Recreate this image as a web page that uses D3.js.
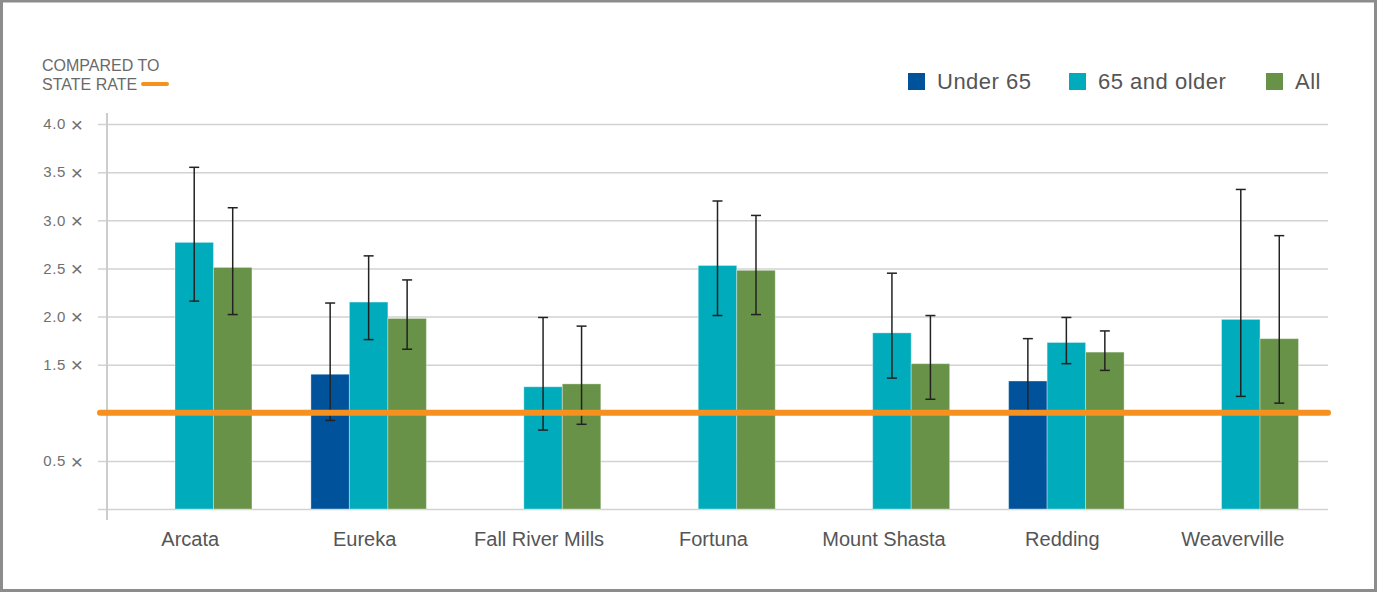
<!DOCTYPE html>
<html>
<head>
<meta charset="utf-8">
<script src="https://cdn.jsdelivr.net/npm/d3@7"></script>
<style>
  body { margin: 0; background: #fff; }
  svg { display: block; }
</style>
</head>
<body>
<div id="chart"></div>
<script>
// values (rate compared to state rate)
let cities = ["Arcata", "Eureka", "Fall River Mills", "Fortuna", "Mount Shasta", "Redding", "Weaverville"];
let seriesNames = ["Under 65", "65 and older", "All"];
let seriesColors = ["#00539b", "#00abbb", "#679247"];

let under65 = [null, 1.40, null, null, null, 1.33, null];
let under65Lo = [null, 0.92, null, null, null, 1.01, null];
let under65Hi = [null, 2.14, null, null, null, 1.77, null];

let older65 = [2.77, 2.15, 1.27, 2.53, 1.83, 1.73, 1.97];
let older65Lo = [2.16, 1.76, 0.82, 2.01, 1.36, 1.51, 1.17];
let older65Hi = [3.55, 2.63, 1.99, 3.20, 2.45, 1.99, 3.32];

let all = [2.51, 1.98, 1.30, 2.48, 1.51, 1.63, 1.77];
let allLo = [2.02, 1.66, 0.88, 2.02, 1.14, 1.44, 1.10];
let allHi = [3.13, 2.38, 1.90, 3.05, 2.01, 1.85, 2.84];

let tickValues = [0.5, 1.5, 2.0, 2.5, 3.0, 3.5, 4.0];
let stateRate = 1.0;

let width = 1377, height = 592;
let plotLeft = 107, plotRight = 1328, plotTop = 124, plotBottom = 509;

// flatten into rows for the bars
let seriesVals = [[under65, under65Lo, under65Hi], [older65, older65Lo, older65Hi], [all, allLo, allHi]];
let rows = [];
cities.forEach((c, i) => {
  seriesNames.forEach((s, j) => {
    let v = seriesVals[j][0][i];
    if (v != null) rows.push({city: c, series: s, color: seriesColors[j], value: v, lo: seriesVals[j][1][i], hi: seriesVals[j][2][i]});
  });
});

let svg = d3.select("#chart").append("svg")
  .attr("width", width)
  .attr("height", height);

// frame
svg.append("rect")
  .attr("x", 1.5).attr("y", 1).attr("width", width - 3).attr("height", height - 2.5)
  .attr("fill", "none").attr("stroke", "#8c8c8c").attr("stroke-width", 3);

let x0 = d3.scaleBand().domain(cities).range([plotLeft, plotRight]).paddingInner(0.338).paddingOuter(0.169);
let x1 = d3.scaleBand().domain(seriesNames).range([0, x0.bandwidth()]);
let y = d3.scaleLinear().domain([0, 4]).range([plotBottom, plotTop]);

// gridlines + tick labels
let yAxis = d3.axisLeft(y)
  .tickValues([0, 1].concat(tickValues))
  .tickSize(-(plotRight - 98))
  .tickPadding(15)
  .tickFormat("");

let gy = svg.append("g").attr("transform", "translate(98,0)").call(yAxis);
gy.select(".domain").remove();
gy.selectAll("line").attr("stroke", "#d2d2d2").attr("stroke-width", 1.5);

// tick labels with a larger multiplication sign
let tl = gy.selectAll(".tick").filter(d => tickValues.includes(d))
  .select("text")
  .attr("fill", "#707070")
  .style("font-family", "'Liberation Sans', Arial, sans-serif")
  .style("font-size", "15px")
  .style("letter-spacing", "0.6px");
tl.append("tspan").text(d => d3.format(".1f")(d) + " ");
tl.append("tspan").style("font-size", "21px").style("letter-spacing", "0px").attr("dy", "2.5").text("\u00d7");

// vertical axis line
svg.append("line")
  .attr("x1", plotLeft).attr("x2", plotLeft)
  .attr("y1", 113).attr("y2", 520)
  .attr("stroke", "#cccccc").attr("stroke-width", 2);

// bars
svg.append("g").selectAll("rect")
  .data(rows)
  .enter()
  .append("rect")
  .attr("x", d => x0(d.city) + x1(d.series))
  .attr("y", d => y(d.value))
  .attr("width", x1.bandwidth())
  .attr("height", d => y(0) - y(d.value))
  .attr("fill", d => d.color)
  .attr("stroke", "rgba(255,255,255,0.35)")
  .attr("stroke-width", 1);

// error bars
let err = svg.append("g").attr("stroke", "#222").attr("stroke-width", 1.5);
rows.forEach(d => {
  let cx = x0(d.city) + x1(d.series) + x1.bandwidth() / 2;
  err.append("line").attr("x1", cx).attr("x2", cx).attr("y1", y(d.hi)).attr("y2", y(d.lo));
  err.append("line").attr("x1", cx - 5).attr("x2", cx + 5).attr("y1", y(d.hi)).attr("y2", y(d.hi));
  err.append("line").attr("x1", cx - 5).attr("x2", cx + 5).attr("y1", y(d.lo)).attr("y2", y(d.lo));
});

// state rate line
svg.append("line")
  .attr("x1", 100).attr("x2", plotRight)
  .attr("y1", y(stateRate)).attr("y2", y(stateRate))
  .attr("stroke", "#f6901e").attr("stroke-width", 6).attr("stroke-linecap", "round");

// x labels
let xAxis = d3.axisBottom(x0).tickSize(0).tickPadding(0);
let gx = svg.append("g").attr("transform", `translate(0,${plotBottom})`).call(xAxis);
gx.select(".domain").remove();
gx.selectAll("text")
  .attr("y", 37)
  .attr("dy", 0)
  .attr("dx", d => d == "Weaverville" || d == "Mount Shasta" ? -8 : -4)
  .attr("fill", "#555")
  .style("font-family", "'Liberation Sans', Arial, sans-serif")
  .style("font-size", "20px");

// top-left note
let note = svg.append("g")
  .style("font-family", "'Liberation Sans', Arial, sans-serif")
  .style("font-size", "16px")
  .attr("fill", "#6a6a6a");
note.append("text").attr("x", 42).attr("y", 71).text("COMPARED TO");
note.append("text").attr("x", 42).attr("y", 90).text("STATE RATE");
svg.append("line")
  .attr("x1", 143).attr("x2", 167).attr("y1", 84).attr("y2", 84)
  .attr("stroke", "#f6901e").attr("stroke-width", 4).attr("stroke-linecap", "round");

// legend
let legendX = [908, 1069, 1266];
let legend = svg.append("g").selectAll("g")
  .data(seriesNames)
  .enter()
  .append("g")
  .attr("transform", (d, i) => `translate(${legendX[i]},73)`);
legend.append("rect")
  .attr("width", 17).attr("height", 17)
  .attr("fill", (d, i) => seriesColors[i]);
legend.append("text")
  .attr("x", 29).attr("y", 16)
  .attr("fill", "#555")
  .style("font-family", "'Liberation Sans', Arial, sans-serif")
  .style("font-size", "22px")
  .style("letter-spacing", "0.5px")
  .text(d => d);
</script>
</body>
</html>
